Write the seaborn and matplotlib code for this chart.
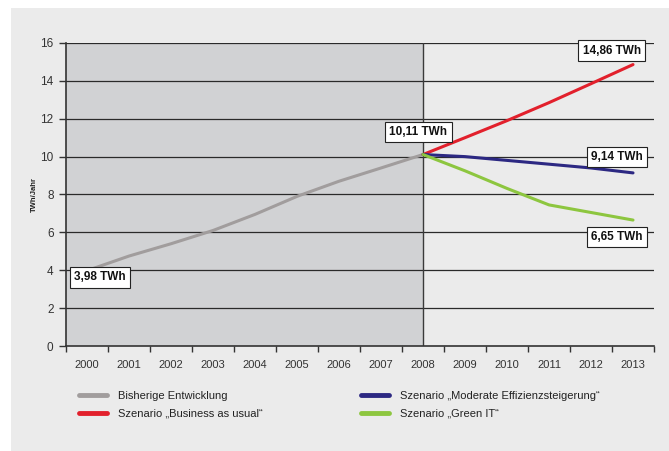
import matplotlib
matplotlib.use("Agg")
import matplotlib.pyplot as plt
import seaborn as sns
import pandas as pd
from matplotlib.patches import Rectangle
from matplotlib.lines import Line2D

years = ["2000", "2001", "2002", "2003", "2004", "2005", "2006",
         "2007", "2008", "2009", "2010", "2011", "2012", "2013"]
hist_years = years[:9]
hist_vals = [3.98, 4.75, 5.4, 6.1, 6.95, 7.9, 8.7, 9.4, 10.11]
scen_years = years[8:]
bau_vals = [10.11, 11.0, 11.9, 12.85, 13.85, 14.86]
mod_vals = [10.11, 10.0, 9.8, 9.6, 9.4, 9.14]
green_vals = [10.11, 9.25, 8.32, 7.45, 7.05, 6.65]

series_names = ["Bisherige Entwicklung",
                "Szenario \u201eBusiness as usual\u201c",
                "Szenario \u201eModerate Effizienzsteigerung\u201c",
                "Szenario \u201eGreen IT\u201c"]
colors = ["#a19d9d", "#e2202c", "#2c2882", "#8dc63f"]

labels = ["3,98 TWh", "10,11 TWh", "14,86 TWh", "9,14 TWh", "6,65 TWh"]

rows = []
for y, v in zip(hist_years, hist_vals):
    rows.append((years.index(y), v, series_names[0]))
for vals, name in zip([bau_vals, mod_vals, green_vals], series_names[1:]):
    for y, v in zip(scen_years, vals):
        rows.append((years.index(y), v, name))
df = pd.DataFrame(rows, columns=["x", "value", "series"])

sns.set_theme(style="white")
plt.rcParams["font.family"] = ["Liberation Sans Narrow", "Liberation Sans", "DejaVu Sans"]

fig = plt.figure(figsize=(6.69, 4.51), dpi=100)
fig.patch.set_facecolor("white")
bg = Rectangle((0.016, 0.0), 0.984, 0.982, transform=fig.transFigure,
               facecolor="#ebebeb", edgecolor="none", zorder=-10)
fig.add_artist(bg)
ax = fig.add_axes([0.0987, 0.2328, 0.8789, 0.6719])
ax.set_zorder(1)
ax.set_facecolor("none")

ax.set_xlim(-0.5, 13.5)
ax.set_ylim(0, 16)
ax.axvspan(-0.5, 8, color="#d1d2d4", zorder=0, lw=0)
for yv in range(2, 17, 2):
    ax.axhline(yv, color="#2a2a2a", lw=0.9, zorder=1)
ax.axvline(8, color="#3a3a3a", lw=1.0, zorder=1)

sns.lineplot(data=df, x="x", y="value", hue="series", hue_order=series_names,
             palette=colors, lw=2.2, legend=False, ax=ax, zorder=3)

ax.set_xticks([i - 0.5 for i in range(15)])
ax.set_xticklabels([])
ax.set_xticks(list(range(14)), minor=True)
ax.set_xticklabels(years, minor=True)
ax.tick_params(axis="x", which="major", direction="out", length=4, width=1, color="#333333", bottom=True)
ax.tick_params(axis="x", which="minor", length=0, pad=10, labelsize=8, labelcolor="#333333")
ax.set_yticks(range(0, 17, 2))
ax.tick_params(axis="y", direction="out", length=5, width=1, color="#333333", left=True,
               labelsize=8.5, labelcolor="#333333", pad=4)
for s in ["top", "right"]:
    ax.spines[s].set_visible(False)
for s in ["left", "bottom"]:
    ax.spines[s].set_color("#333333")
    ax.spines[s].set_linewidth(1.2)
ax.set_xlabel("")
ax.set_ylabel("TWh/Jahr", fontsize=5.5, fontweight="bold", labelpad=2, color="#222222")

bbox = dict(boxstyle="square,pad=0.35", facecolor="white", edgecolor="#222222", lw=0.8)
pos = [(0.30, 3.62), (7.89, 11.3), (12.49, 15.6), (12.61, 9.98), (12.61, 5.75)]
for (px, py), t in zip(pos, labels):
    ax.text(px, py, t, ha="center", va="center", fontsize=8.5, fontweight="bold",
            color="#111111", bbox=bbox, zorder=5)

handles = [Line2D([0], [0], color=c, lw=3.5) for c in colors]
leg = fig.legend(handles, series_names, ncol=2, loc="upper left",
                 bbox_to_anchor=(0.103, 0.155), frameon=False, fontsize=8,
                 handlelength=2.5, columnspacing=8.9, labelspacing=0.7,
                 handletextpad=1.0)
for t in leg.get_texts():
    t.set_color("#222222")

fig.savefig("out.png", dpi=100, facecolor=fig.get_facecolor())
